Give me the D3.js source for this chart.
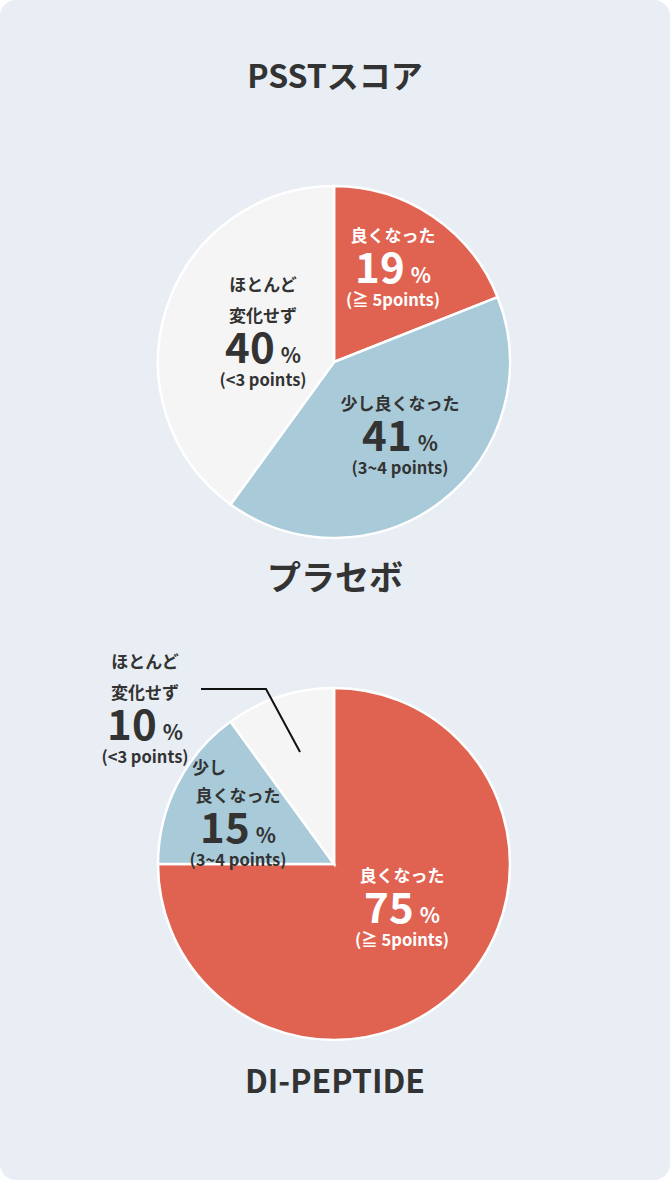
<!DOCTYPE html>
<html><head><meta charset="utf-8">
<script src="https://cdn.jsdelivr.net/npm/d3@7"></script>
<style>body{margin:0;background:#fff}</style>
</head><body>
<svg id="c" width="670" height="1180"></svg>
<script>
const categories = ['良くなった', '少し良くなった', 'ほとんど変化せず'];
const placeboValues = [19, 41, 40];
const peptideValues = [75, 15, 10];
const pointLabels = ['(≧ 5points)', '(3~4 points)', '(<3 points)'];
const colors = ['#e06352', '#a9cbd9', '#f5f5f5'];

const svg = d3.select('#c');
const font = "'Noto Sans CJK JP', 'Noto Sans', sans-serif";
const ink = '#333';
svg.append('rect').attr('width', 670).attr('height', 1180).attr('rx', 16).attr('fill', '#e8eef4');

function title(t, y, size) {
  svg.append('text').attr('x', 335).attr('y', y).attr('text-anchor', 'middle')
    .attr('font-family', font).attr('font-weight', 700).attr('font-size', size)
    .attr('fill', ink).text(t);
}
title('PSSTスコア', 88, 32);
title('プラセボ', 590, 34);
title('DI-PEPTIDE', 1093, 32);

// label block: lines of names, big number, points
function label(g, x, y, names, value, pts, color) {
  const t = g.append('g').attr('transform', `translate(${x},${y})`)
    .attr('font-family', font).attr('font-weight', 700).attr('fill', color).attr('text-anchor', 'middle');
  let yy = 0;
  names.forEach((n) => { t.append('text').attr('y', yy).attr('font-size', 17).text(n); yy += 31; });
  yy -= 31;
  const v = t.append('text').attr('y', yy + 41);
  v.append('tspan').attr('font-size', 42).text(value);
  v.append('tspan').attr('font-size', 21).attr('dx', 6).text('%');
  t.append('text').attr('y', yy + 64).attr('font-size', 16.5).text(pts);
}

function pie(cx, cy, values) {
  const r = 176;
  const g = svg.append('g').attr('transform', `translate(${cx},${cy})`);
  const arcs = d3.pie().sort(null).value((d) => d)(values);
  g.selectAll('path').data(arcs).join('path')
    .attr('d', d3.arc().innerRadius(0).outerRadius(r))
    .attr('fill', (d, i) => colors[i]).attr('stroke', '#fff').attr('stroke-width', 2.5);
  return g;
}

const g1 = pie(334, 362, placeboValues);
label(g1, 59, -120, [categories[0]], placeboValues[0], pointLabels[0], '#fff');
label(g1, 66, 48, [categories[1]], placeboValues[1], pointLabels[1], ink);
label(g1, -71, -71, ['ほとんど', '変化せず'], placeboValues[2], pointLabels[2], ink);

const g2 = pie(334, 864, peptideValues);
label(g2, 68, 18, [categories[0]], peptideValues[0], pointLabels[0], '#fff');
g2.append('text').attr('x', -142).attr('y', -90).attr('font-family', font).attr('font-weight', 700)
  .attr('font-size', 17).attr('fill', ink).text('少し');
label(g2, -96, -62, ['良くなった'], peptideValues[1], pointLabels[1], ink);
label(g2, -189, -196, ['ほとんど', '変化せず'], peptideValues[2], pointLabels[2], ink);
g2.append('polyline').attr('points', '-133,-175 -68,-175 -34,-112')
  .attr('fill', 'none').attr('stroke', '#111').attr('stroke-width', 2);
</script>
</body></html>
